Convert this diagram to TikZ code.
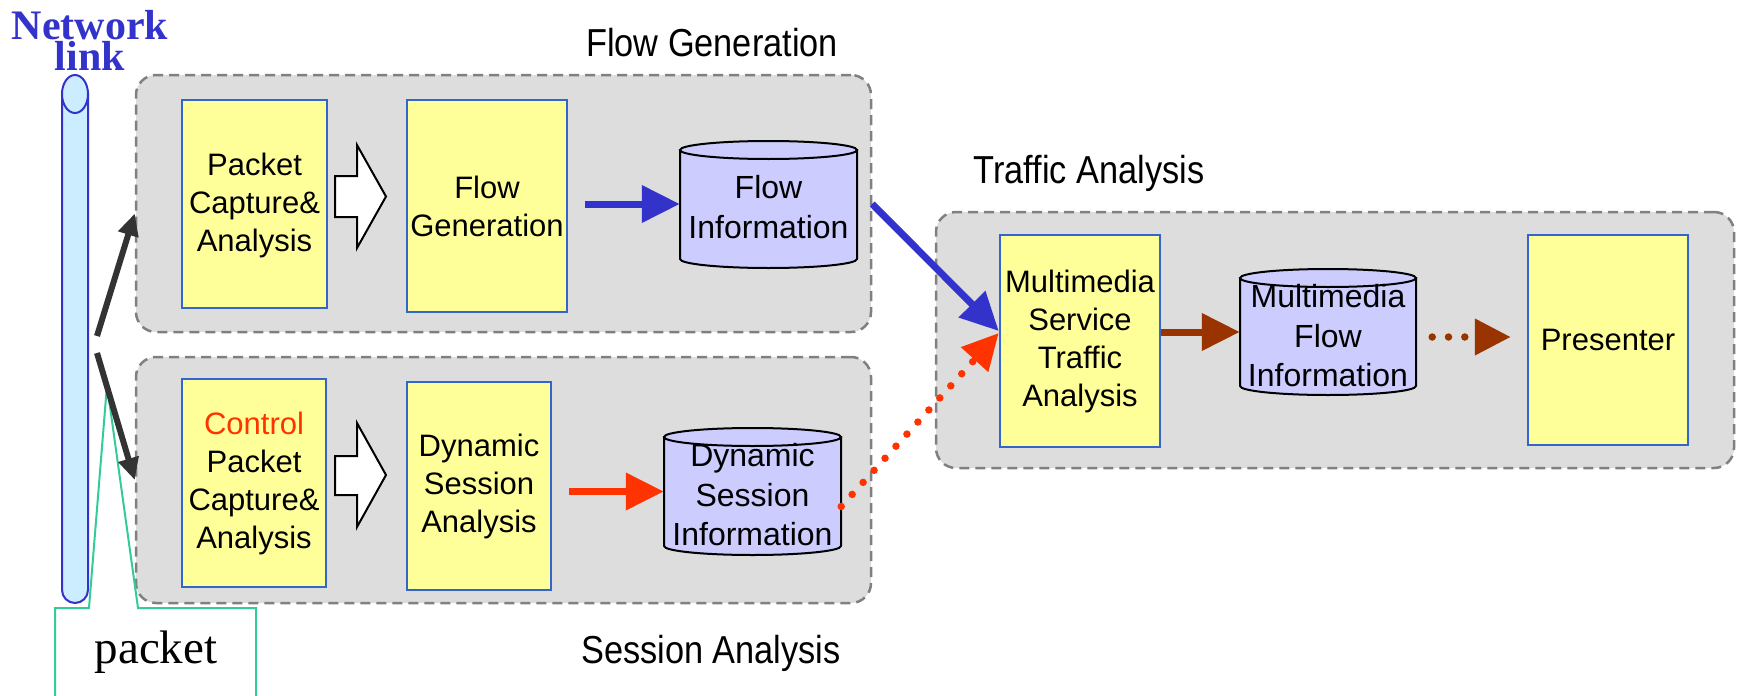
\documentclass[tikz,border=0pt]{standalone}
\usepackage{fontspec}
\setmainfont{Liberation Sans}
\newfontfamily\titlefont[FakeStretch=0.88]{Liberation Sans}
\newfontfamily\seriffont{Liberation Serif}
\usetikzlibrary{arrows.meta}

\definecolor{groupfill}{RGB}{221,221,221}
\definecolor{groupline}{RGB}{128,128,128}
\definecolor{boxfill}{RGB}{255,255,153}
\definecolor{boxline}{RGB}{51,102,204}
\definecolor{cylfill}{RGB}{204,204,255}
\definecolor{flowblue}{RGB}{51,51,204}
\definecolor{ctrlred}{RGB}{255,51,0}
\definecolor{brown}{RGB}{153,51,0}
\definecolor{tubefill}{RGB}{204,236,255}
\definecolor{callgreen}{RGB}{51,204,153}
\definecolor{tapgray}{RGB}{51,51,51}

% database cylinder: left x, right x, top y, bottom y, ellipse y radius
\newcommand\drawcyl[5]{%
  \pgfmathsetmacro\cylcx{(#1+#2)/2}%
  \pgfmathsetmacro\cylrx{(#2-#1)/2}%
  \pgfmathsetmacro\cylkx{0.5523*\cylrx}%
  \pgfmathsetmacro\cylky{0.5523*#5}%
  \pgfmathsetmacro\cylyt{#3+#5}%
  \pgfmathsetmacro\cylyb{#4-#5}%
  \filldraw[cylbody] (#1,\cylyt) -- (#1,\cylyb)
    .. controls (#1,\cylyb+\cylky) and (\cylcx-\cylkx,#4) .. (\cylcx,#4)
    .. controls (\cylcx+\cylkx,#4) and (#2,\cylyb+\cylky) .. (#2,\cylyb)
    -- (#2,\cylyt) -- cycle;
  \filldraw[cylbody] (\cylcx,\cylyt) ellipse [x radius=\cylrx, y radius=#5];
}

\begin{document}
\begin{tikzpicture}[x=1pt,y=-1pt,
  group/.style={draw=groupline, fill=groupfill, line width=2.5pt,
    dash pattern=on 10pt off 6pt, rounded corners=20pt, inner sep=0pt},
  procbox/.style={draw=boxline, fill=boxfill, line width=2.5pt, inner sep=0pt,
    align=center, font=\fontsize{31}{38}\selectfont},
  cylbody/.style={draw=black, fill=cylfill, line width=2pt},
  cylspot/.style={inner sep=0pt, draw=none},
  cyltext/.style={align=center, inner sep=0pt, font=\fontsize{32}{39.5}\selectfont},
  grouptitle/.style={font=\titlefont\fontsize{39}{44}\selectfont, inner sep=0pt, anchor=base},
  hollow/.style={draw=black, fill=white, line width=2pt, line join=miter},
  flowarrow/.style={line width=7pt, -{Triangle[length=38pt,width=36pt]}},
  dotarrow/.style={line width=7.5pt, line cap=round, dash pattern=on 0pt off 16.3pt,
    -{Triangle[length=36pt,width=35pt]}},
  tap/.style={draw=tapgray, line width=6pt, -{Triangle[length=22pt,width=20pt]}},
]
\useasboundingbox (0,0) rectangle (1738,696);

% group panels
\node[group, minimum width=735pt, minimum height=257pt] (fgbox) at (503.5,203.5) {};
\node[group, minimum width=735pt, minimum height=246pt] (sabox) at (503.5,480) {};
\node[group, minimum width=798pt, minimum height=256pt] (tabox) at (1335,340) {};

\node[grouptitle] (fgtitle) at (712,56) {Flow Generation};
\node[grouptitle] (satitle) at (711,663) {Session Analysis};
\node[grouptitle] (tatitle) at (1089,183) {Traffic Analysis};

% network link tube
\filldraw[draw=flowblue, fill=tubefill, line width=2pt]
  (62,94) -- (62,590) .. controls (62,597.2) and (67.8,603) .. (75,603)
  .. controls (82.2,603) and (88,597.2) .. (88,590) -- (88,94) -- cycle;
\filldraw[draw=flowblue, fill=tubefill, line width=2pt] (75,94) ellipse [x radius=13, y radius=19];
\node[font=\seriffont\bfseries\fontsize{42}{31}\selectfont, text=flowblue, align=center,
  inner sep=0pt, anchor=north] (netlink) at (90,10) {Network\\link};

% packet callout
\filldraw[draw=callgreen, fill=white, line width=2pt]
  (55,700) -- (55,608) -- (89,608) -- (107,385) -- (138,608) -- (256,608) -- (256,700);
\node[font=\seriffont\fontsize{47}{50}\selectfont, inner sep=0pt, anchor=base] (pkt) at (156,663) {packet};

% flow generation row
\node[procbox, minimum width=145pt, minimum height=208pt] (pca) at (254.5,204) {\rule{0pt}{26pt}Packet\\Capture\&\\Analysis};
\node[procbox, minimum width=160pt, minimum height=212pt] (fg) at (487,206) {Flow\\Generation};
\drawcyl{680}{857}{141}{268}{9}
\node[cylspot, minimum width=177pt, minimum height=127pt] (fi) at (768.5,204) {};
\node[cyltext] (fitext) at (768.5,207) {Flow\\Information};
\filldraw[hollow] (335,176) -- (357,176) -- (357,145) -- (386,196.5) -- (357,248) -- (357,217) -- (335,217) -- cycle;

% session analysis row
\node[procbox, minimum width=144pt, minimum height=208pt] (cpca) at (254,483) {\textcolor{ctrlred}{Control}\\Packet\\Capture\&\\Analysis};
\node[procbox, minimum width=144pt, minimum height=208pt] (dsa) at (479,486) {Dynamic\\Session\\Analysis};
\drawcyl{664}{841}{428}{555}{9}
\node[cylspot, minimum width=177pt, minimum height=127pt] (dsi) at (752.5,491.5) {};
\node[cyltext] (dsitext) at (752.5,495) {Dynamic\\Session\\Information};
\filldraw[hollow] (335,456) -- (357,456) -- (357,423) -- (386,475) -- (357,527) -- (357,495) -- (335,495) -- cycle;

% traffic analysis row
\node[procbox, minimum width=160pt, minimum height=212pt] (msta) at (1080,341) {Multimedia\\Service\\Traffic\\Analysis};
\drawcyl{1240}{1416}{269}{395}{9}
\node[cylspot, minimum width=176pt, minimum height=126pt] (mfi) at (1328,332) {};
\node[cyltext] (mfitext) at (1328,336) {Multimedia\\Flow\\Information};
\node[procbox, minimum width=160pt, minimum height=210pt] (pres) at (1608,340) {Presenter};

% connectors
\coordinate (tapA) at (97,336);
\coordinate (tapB) at (97,353);
\draw[tap] (tapA) -- ([yshift=-10pt]fgbox.west);
\draw[tap] (tapB) -- (sabox.west);

\draw[flowarrow, color=flowblue, shorten <=17pt] (fg.east |- fi.west) -- (fi.west);
\draw[flowarrow, color=ctrlred, shorten <=17pt] (dsa.east |- dsi.west) -- (dsi.west);
\draw[flowarrow, color=brown] (msta.east |- mfi.west) -- (mfi.west);
\path ([yshift=-5pt]mfi.east) coordinate (mfo);
\draw[dotarrow, color=brown, shorten <=16pt, shorten >=16pt] (mfo) -- (mfo -| pres.west);

\draw[flowarrow, color=flowblue] ([xshift=15pt]fi.east) -- ([yshift=10pt]msta.west);
\draw[dotarrow, color=ctrlred] ([yshift=-15pt]dsi.east) -- ([yshift=8pt]msta.west);
\end{tikzpicture}
\end{document}
